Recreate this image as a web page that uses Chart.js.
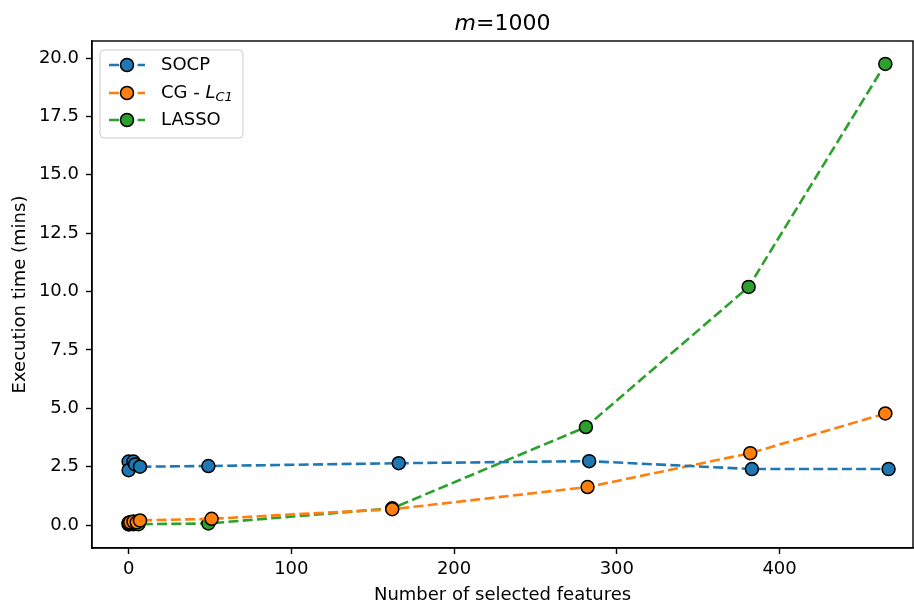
<!DOCTYPE html>
<html>
<head>
<meta charset="utf-8">
<script src="https://cdn.jsdelivr.net/npm/chart.js@4"></script>
<style>
  html, body { margin: 0; padding: 0; background: #fff; overflow: hidden; }
  canvas { display: block; }
</style>
</head>
<body>
<canvas id="myChart" width="914" height="603"></canvas>
<script>
// data
const socpX = [0, 0, 3, 4, 7, 49, 166, 283, 383, 467];
const socpY = [2.72, 2.35, 2.72, 2.6, 2.5, 2.53, 2.65, 2.74, 2.4, 2.4];
const cgX = [0, 1, 3, 5, 7, 51, 162, 282, 382, 465];
const cgY = [0.1, 0.12, 0.15, 0.12, 0.2, 0.27, 0.68, 1.63, 3.08, 4.78];
const lassoX = [0, 1, 3, 4, 6, 49, 162, 281, 381, 465];
const lassoY = [0.03, 0.05, 0.04, 0.06, 0.04, 0.07, 0.72, 4.2, 10.2, 19.75];
const xTicks = [0, 100, 200, 300, 400];
const yTicks = [0, 2.5, 5, 7.5, 10, 12.5, 15, 17.5, 20];

const FONT = '"DejaVu Sans", sans-serif';
const FS = 18;
const colors = ['#1f77b4', '#ff7f0e', '#2ca02c'];
const DASH = [10, 4.3];
const LW = 2.6;

function pts(xs, ys) {
  return xs.map((x, i) => ({x: x, y: ys[i]}));
}

function series(label, xs, ys, color) {
  return {
    label: label,
    data: pts(xs, ys),
    showLine: true,
    borderColor: color,
    borderWidth: LW,
    borderDash: DASH,
    pointRadius: 6.5,
    pointHoverRadius: 6.5,
    pointBackgroundColor: color,
    pointBorderColor: '#000',
    pointBorderWidth: 1.5,
    fill: false
  };
}

// frame, title and legend (legend needs a subscript, so drawn by hand)
const decor = {
  id: 'decor',
  afterDraw(chart) {
    const c = chart.ctx;
    const a = chart.chartArea;
    c.save();
    c.strokeStyle = '#000';
    c.lineWidth = 1.4;
    c.strokeRect(a.left, a.top, a.right - a.left, a.bottom - a.top);

    // title
    c.fillStyle = '#000';
    c.textBaseline = 'alphabetic';
    const it = 'italic 22px ' + FONT, nm = '22px ' + FONT;
    c.font = it;
    const w1 = c.measureText('m').width;
    c.font = nm;
    const w2 = c.measureText('=1000').width;
    let tx = (a.left + a.right) / 2 - (w1 + w2) / 2;
    c.font = it;
    c.fillText('m', tx, 30);
    c.font = nm;
    c.fillText('=1000', tx + w1, 30);

    // legend box
    const bx = 100, by = 50, bw = 143, bh = 88, r = 4;
    c.beginPath();
    c.moveTo(bx + r, by);
    c.arcTo(bx + bw, by, bx + bw, by + bh, r);
    c.arcTo(bx + bw, by + bh, bx, by + bh, r);
    c.arcTo(bx, by + bh, bx, by, r);
    c.arcTo(bx, by, bx + bw, by, r);
    c.closePath();
    c.fillStyle = 'rgba(255,255,255,0.8)';
    c.fill();
    c.strokeStyle = '#cccccc';
    c.lineWidth = 1;
    c.stroke();

    const rows = [65, 93, 120];
    chart.data.datasets.forEach((ds, i) => {
      const y = rows[i];
      c.strokeStyle = ds.borderColor;
      c.lineWidth = LW;
      c.setLineDash(DASH);
      c.beginPath();
      c.moveTo(109, y);
      c.lineTo(145, y);
      c.stroke();
      c.setLineDash([]);
      c.beginPath();
      c.arc(127, y, 6.5, 0, Math.PI * 2);
      c.fillStyle = ds.borderColor;
      c.fill();
      c.strokeStyle = '#000';
      c.lineWidth = 1.5;
      c.stroke();

      c.fillStyle = '#000';
      c.textBaseline = 'middle';
      c.font = FS + 'px ' + FONT;
      if (i === 1) {
        const p1 = 'CG - ';
        c.fillText(p1, 161, y);
        let x = 161 + c.measureText(p1).width;
        c.font = 'italic ' + FS + 'px ' + FONT;
        c.fillText('L', x, y);
        x += c.measureText('L').width;
        c.font = 'italic 13px ' + FONT;
        c.fillText('C1', x, y + 5);
      } else {
        c.fillText(ds.label, 161, y);
      }
    });
    c.restore();
  }
};

const ctx = document.getElementById('myChart').getContext('2d');

const config = {
  type: 'scatter',
  data: {
    datasets: [
      series('SOCP', socpX, socpY, colors[0]),
      series('CG - L_C1', cgX, cgY, colors[1]),
      series('LASSO', lassoX, lassoY, colors[2])
    ]
  },
  options: {
    responsive: false,
    devicePixelRatio: 1,
    animation: false,
    layout: { autoPadding: false, padding: { top: 41, right: 1, left: 0, bottom: 0 } },
    scales: {
      x: {
        type: 'linear',
        min: -22.5,
        max: 482,
        afterFit(s) { s.height = 55; s.paddingLeft = 0; s.paddingRight = 0; },
        afterBuildTicks(s) { s.ticks = xTicks.map(v => ({value: v})); },
        ticks: {
          color: '#000',
          font: { family: FONT, size: FS },
          padding: 5,
          maxRotation: 0
        },
        grid: {
          drawOnChartArea: false,
          drawTicks: true,
          tickLength: 6,
          tickWidth: 1.4,
          tickColor: '#000'
        },
        border: { display: true, color: '#000', width: 1.4 },
        title: {
          display: true,
          text: 'Number of selected features',
          color: '#000',
          font: { family: FONT, size: FS },
          padding: { top: 0, bottom: -3 }
        }
      },
      y: {
        type: 'linear',
        min: -0.98,
        max: 20.73,
        afterFit(s) { s.width = 92; s.paddingTop = 0; s.paddingBottom = 0; },
        afterBuildTicks(s) { s.ticks = yTicks.map(v => ({value: v})); },
        ticks: {
          color: '#000',
          font: { family: FONT, size: FS },
          padding: 7,
          callback: v => v.toFixed(1)
        },
        grid: {
          drawOnChartArea: false,
          drawTicks: true,
          tickLength: 6,
          tickWidth: 1.4,
          tickColor: '#000'
        },
        border: { display: true, color: '#000', width: 1.4 },
        title: {
          display: true,
          text: 'Execution time (mins)',
          color: '#000',
          font: { family: FONT, size: FS },
          padding: { top: 9.5, bottom: 3 }
        }
      }
    },
    plugins: {
      legend: { display: false },
      tooltip: { enabled: false }
    }
  },
  plugins: [decor]
};

const myChart = new Chart(ctx, config);
</script>
</body>
</html>
